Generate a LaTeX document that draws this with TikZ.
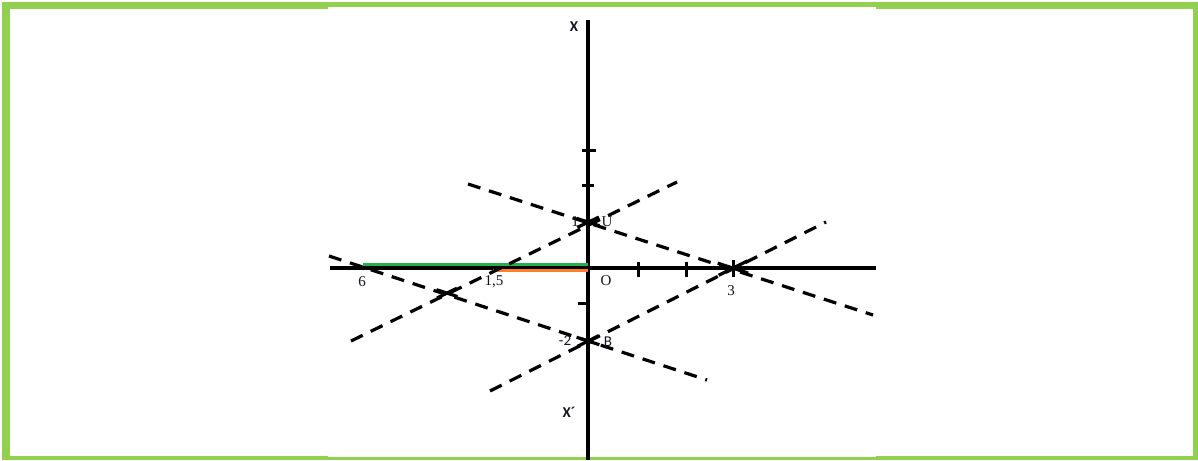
\documentclass[tikz,border=0pt]{standalone}
\usepackage{fontspec}
\usetikzlibrary{calc}
\setmainfont{Liberation Serif}
\newfontfamily\lblsans{Carlito}
\definecolor{framegreen}{RGB}{146,208,80}
\definecolor{seggreen}{RGB}{34,177,76}
\definecolor{segorange}{RGB}{255,127,39}
\definecolor{lbl}{RGB}{20,20,30}
\tikzset{
  axisline/.style={line width=3.4pt,black},
  tickline/.style={line width=3pt,black},
  dline/.style={line width=3.2pt,black,dash pattern=on 13pt off 9pt},
  xmark/.style={line width=3.2pt,black},
  serlbl/.style={inner sep=0pt,text=lbl,font=\fontsize{15}{16}\selectfont},
  sanslbl/.style={inner sep=0pt,text=lbl,font=\lblsans\fontsize{15}{16}\selectfont},
}
\begin{document}
\begin{tikzpicture}[x=1pt,y=-1pt]
\useasboundingbox (0,0) rectangle (1198,460);
% frame
\fill[white] (0,0) rectangle (1198,460);
\fill[framegreen] (2,2) rectangle (1198,460);
\fill[white] (10,9) rectangle (1193,456);
\fill[white] (328,7) rectangle (876,457);

% coordinates
\coordinate (yTop) at (588,20);
\coordinate (yBot) at (588,460);
\coordinate (xL) at (330,268);
\coordinate (xR) at (876,268);
\coordinate (O) at (588,268);
\coordinate (P1) at (588,222);
\coordinate (Pm2) at (588,341);
\coordinate (P3) at (733,268);
\coordinate (P6) at (363,268);
\coordinate (P15) at (493,268);
\coordinate (Q) at (447,293);

% dashed lines end points
\coordinate (a1) at (468,184); \coordinate (a2) at (873,315);
\coordinate (b1) at (490,391); \coordinate (b2) at (826,222);
\coordinate (c1) at (351,341); \coordinate (c2) at (677,182);
\coordinate (d1) at (329,256); \coordinate (d2) at (707,380);

% axes
\draw[axisline] (yTop) -- (yBot);
\draw[axisline] (xL) -- (xR);

% ticks
\draw[tickline] (582,150) -- (596,150);
\draw[tickline] (582,185) -- (594,185);
\draw[tickline] (578,303) -- (590,303);
\draw[tickline] (638,262) -- (638,277);
\draw[tickline] (686,262) -- (686,277);
\draw[tickline] (733,260) -- (733,277);

% coloured segments
\draw[line width=3.6pt,seggreen] (P6 |- 0,264.5) -- (O |- 0,264.5);
\draw[line width=3.6pt,segorange] (P15 |- 0,270.5) -- (O |- 0,270.5);

% dashed lines
\draw[dline] (a1) -- (a2);
\draw[dline] (b1) -- (b2);
\draw[dline] (c1) -- (c2);
\draw[dline] (d1) -- (d2);

% crossing marks
\draw[xmark] ($(P3)!16pt!(a1)$) -- ($(P3)!16pt!(a2)$);
\draw[xmark] ($(P3)!16pt!(b1)$) -- ($(P3)!16pt!(b2)$);
\draw[xmark] ($(P1)!12pt!(a1)$) -- ($(P1)!12pt!(a2)$);
\draw[xmark] ($(P1)!12pt!(c1)$) -- ($(P1)!12pt!(c2)$);
\draw[xmark] ($(Pm2)!12pt!(b1)$) -- ($(Pm2)!12pt!(b2)$);
\draw[xmark] ($(Pm2)!12pt!(d1)$) -- ($(Pm2)!12pt!(d2)$);
\draw[xmark] ($(Q)!11pt!(c1)$) -- ($(Q)!11pt!(c2)$);
\draw[xmark] ($(Q)!11pt!(d1)$) -- ($(Q)!11pt!(d2)$);

% labels
\node[sanslbl,font=\lblsans\bfseries\fontsize{15}{16}\selectfont] (lX) at (574,27) {X};
\node[sanslbl,font=\lblsans\bfseries\fontsize{15}{16}\selectfont] (lXp) at (569,412) {X´};
\node[serlbl] (lO) at (606,281) {O};
\node[serlbl] (l3) at (731,291) {3};
\node[serlbl] (l6) at (362,282) {6};
\node[serlbl] (l15) at (494,282) {1,5};
\node[serlbl] (l1) at (575,222) {1};
\node[serlbl] (lU) at (607,222) {U};
\node[sanslbl] (lm2) at (565,341) {-2};
\node[sanslbl] (lB) at (608,342) {B};
\end{tikzpicture}
\end{document}
